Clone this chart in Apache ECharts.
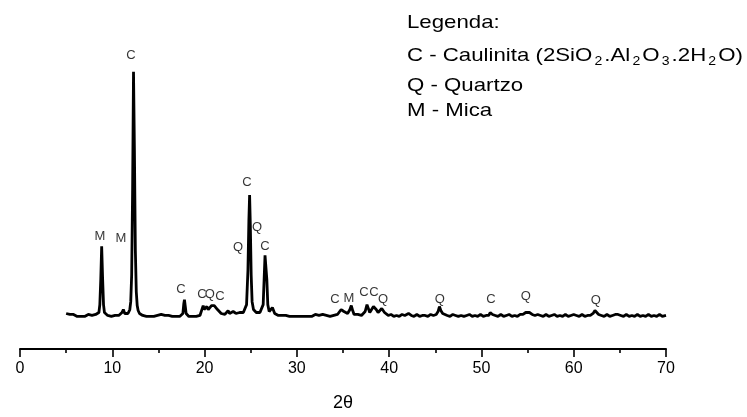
<!DOCTYPE html>
<html>
<head>
<meta charset="utf-8">
<script src="https://cdn.jsdelivr.net/npm/echarts@6/dist/echarts.min.js"></script>
<style>
  html, body { margin: 0; padding: 0; background: #fff; }
  #chart { width: 747px; height: 417px; }
</style>
</head>
<body>
<div id="chart"></div>
<script>
// Diffractogram: 2θ positions (degrees) and measured intensity (arbitrary units)
const twoTheta = [
  5.0, 5.2, 5.4, 5.6, 5.8, 6.0, 6.2, 6.4, 6.6, 6.8, 7.0, 7.2, 7.4, 7.6, 7.8, 8.0, 8.2, 8.4,
  8.55, 8.65, 8.75, 8.85, 8.95, 9.05, 9.15, 9.3, 9.5, 9.7, 9.9, 10.1, 10.3, 10.5, 10.7, 10.9,
  11.05, 11.2, 11.35, 11.5, 11.7, 11.9, 12.0, 12.1, 12.2, 12.3, 12.4, 12.5, 12.6, 12.7, 12.8,
  12.95, 13.1, 13.3, 13.5, 13.7, 13.9, 14.1, 14.3, 14.5, 14.7, 14.9, 15.1, 15.3, 15.5, 15.7,
  15.9, 16.1, 16.3, 16.5, 16.7, 16.9, 17.1, 17.3, 17.5, 17.65, 17.75, 17.82, 17.9, 18.0, 18.1,
  18.3, 18.5, 18.7, 18.9, 19.1, 19.3, 19.5, 19.7, 19.85, 19.95, 20.1, 20.25, 20.4, 20.55, 20.75,
  20.9, 21.05, 21.2, 21.4, 21.6, 21.8, 22.0, 22.2, 22.4, 22.55, 22.7, 22.9, 23.1, 23.25, 23.4,
  23.6, 23.8, 24.0, 24.2, 24.4, 24.55, 24.7, 24.8, 24.88, 24.96, 25.05, 25.15, 25.3, 25.45, 25.6,
  25.8, 26.0, 26.2, 26.35, 26.45, 26.55, 26.65, 26.75, 26.85, 27.0, 27.2, 27.35, 27.45, 27.6,
  27.8, 28.0, 28.2, 28.4, 28.6, 28.8, 29.0, 29.2, 29.4, 29.6, 29.8, 30.0, 30.2, 30.4, 30.6, 30.8,
  31.0, 31.2, 31.4, 31.6, 31.8, 32.0, 32.2, 32.4, 32.6, 32.8, 33.0, 33.2, 33.4, 33.6, 33.8, 34.0,
  34.2, 34.4, 34.6, 34.8, 34.95, 35.1, 35.3, 35.5, 35.75, 35.9, 36.05, 36.2, 36.4, 36.6, 36.8,
  37.0, 37.2, 37.4, 37.6, 37.75, 37.9, 38.1, 38.3, 38.45, 38.6, 38.8, 39.0, 39.2, 39.35, 39.5,
  39.7, 39.9, 40.2, 40.5, 40.8, 41.1, 41.4, 41.7, 41.9, 42.1, 42.4, 42.7, 43.0, 43.3, 43.6, 43.9,
  44.2, 44.5, 44.8, 45.1, 45.3, 45.45, 45.6, 45.8, 46.0, 46.3, 46.6, 46.9, 47.2, 47.5, 47.8, 48.1,
  48.4, 48.7, 49.0, 49.3, 49.6, 49.9, 50.2, 50.5, 50.8, 50.95, 51.05, 51.2, 51.5, 51.8, 52.1, 52.4,
  52.7, 53.0, 53.3, 53.6, 53.9, 54.2, 54.5, 54.8, 55.0, 55.2, 55.5, 55.8, 56.1, 56.4, 56.7, 57.0,
  57.3, 57.6, 57.9, 58.2, 58.5, 58.8, 59.1, 59.4, 59.7, 60.0, 60.3, 60.6, 60.9, 61.2, 61.5, 61.8,
  62.1, 62.3, 62.5, 62.7, 63.0, 63.3, 63.6, 63.9, 64.2, 64.5, 64.8, 65.1, 65.4, 65.7, 66.0, 66.3,
  66.6, 66.9, 67.2, 67.5, 67.8, 68.1, 68.4, 68.7, 69.0, 69.3, 69.6, 70.0
];
const intensity = [
  36, 34, 35, 33, 35, 34, 33, 35, 33, 34, 33, 34, 35, 33, 34, 34, 35, 35,
  37, 45, 70, 104, 72, 45, 37, 35, 34, 35, 33, 34, 34, 35, 34, 35,
  37, 40, 36, 35, 36, 40, 48, 75, 160, 281, 200, 100, 58, 44, 39,
  36, 35, 34, 35, 33, 34, 33, 35, 33, 34, 34, 33, 35, 33, 34,
  33, 34, 35, 33, 34, 33, 35, 33, 34, 36, 46, 50, 44, 36, 34,
  33, 35, 33, 34, 33, 35, 34, 36, 44, 40, 38, 43, 40, 41, 44,
  46, 44, 42, 40, 38, 36, 35, 35, 37, 39, 36, 35, 38, 40, 36,
  35, 37, 38, 37, 39, 45, 80, 130, 156, 125, 75, 48, 40, 38, 37,
  36, 37, 39, 45, 70, 95, 96, 70, 45, 38, 37, 42, 40, 36,
  35, 34, 35, 34, 35, 34, 35, 33, 34, 33, 35, 33, 34, 33, 35, 33,
  34, 33, 35, 33, 34, 35, 33, 34, 33, 35, 33, 34, 35, 33, 34, 34,
  35, 35, 36, 40, 41, 38, 37, 36, 40, 44, 39, 35, 34, 35, 34,
  34, 35, 38, 45, 44, 37, 37, 43, 45, 40, 37, 38, 41, 41, 37,
  35, 34, 35, 33, 34, 33, 35, 34, 35, 36, 34, 33, 35, 33, 34, 34,
  33, 35, 34, 35, 38, 43, 39, 36, 35, 34, 33, 35, 34, 33, 34, 33,
  34, 35, 33, 34, 33, 35, 33, 34, 34, 37, 39, 35, 34, 33, 35, 33,
  34, 35, 33, 34, 33, 35, 35, 37, 38, 37, 35, 34, 35, 34, 33, 35,
  33, 34, 35, 33, 34, 33, 35, 33, 34, 35, 34, 33, 35, 33, 34, 34,
  36, 39, 37, 35, 34, 33, 35, 33, 34, 35, 35, 34, 33, 35, 33, 34,
  33, 35, 33, 34, 33, 35, 33, 34, 33, 35, 33, 34
];

// Phase identification letters above the reflections
const peakPhase = ['C', 'M', 'M', 'C', 'C', 'Q', 'C', 'C', 'Q', 'Q', 'C',
                   'C', 'M', 'C', 'C', 'Q', 'Q', 'C', 'Q', 'Q'];
const peakLabelX = [12.03, 8.67, 10.94, 17.44, 19.72, 20.58, 21.67, 24.59, 25.68, 23.62, 26.54,
                    34.13, 35.64, 37.27, 38.35, 39.33, 45.50, 51.03, 54.82, 62.40];
const peakLabelY = [298, 114, 112, 60, 55, 55, 53, 169, 123, 103, 104,
                    50, 51, 57, 57, 50, 50, 50, 53, 49];

// Axis ticks
const xTicks = [0, 10, 20, 30, 40, 50, 60, 70];

// Legend block: one entry per line
const legendLines = [
  'Legenda:',
  'C - Caulinita (2SiO{s|2}.Al{s|2}O{s|3}.2H{s|2}O)',
  'Q - Quartzo',
  'M - Mica'
];
const legendLineY = [22.5, 55.5, 86, 111];

const chart = echarts.init(document.getElementById('chart'), null, { renderer: 'canvas' });

const lineData = twoTheta.map((t, i) => [t, intensity[i]]);
const labelData = peakLabelX.map((x, i) => ({ value: [x, peakLabelY[i]], name: peakPhase[i] }));

const legendGraphics = legendLines.map((txt, i) => ({
  type: 'text',
  x: 407,
  y: legendLineY[i],
  scaleX: 1.17,
  silent: true,
  style: {
    text: txt,
    fill: '#000',
    font: '19px "Liberation Sans", Arial, sans-serif',
    verticalAlign: 'middle',
    align: 'left',
    rich: {
      s: { fontSize: 12, fill: '#000', padding: [12, 1.8, 0, 1.8], fontFamily: 'Liberation Sans, Arial' }
    }
  }
}));

const option = {
  backgroundColor: '#ffffff',
  animation: false,
  grid: { left: 20, right: 81, top: 53, bottom: 64, containLabel: false },
  xAxis: {
    type: 'value',
    min: xTicks[0],
    max: xTicks[xTicks.length - 1],
    interval: 10,
    name: '2θ',
    nameLocation: 'middle',
    nameGap: 45,
    nameTextStyle: { color: '#000', fontSize: 18, fontFamily: 'Liberation Sans Narrow, Liberation Sans, Arial' },
    axisLine: { show: true, lineStyle: { color: '#000', width: 2 } },
    axisTick: { show: true, length: 8, lineStyle: { color: '#000', width: 1.6 } },
    minorTick: { show: true, splitNumber: 2, length: 4, lineStyle: { color: '#000', width: 1.6 } },
    axisLabel: {
      color: '#000', fontSize: 16, margin: 12,
      fontFamily: 'Liberation Sans Narrow, Liberation Sans, Arial',
      formatter: v => String(v)
    },
    splitLine: { show: false }
  },
  yAxis: {
    type: 'value', min: 0, max: 300, show: false,
    splitLine: { show: false }
  },
  graphic: legendGraphics,
  series: [
    {
      type: 'line',
      data: lineData,
      showSymbol: false,
      symbol: 'none',
      smooth: false,
      lineStyle: { color: '#000', width: 2.8 },
      z: 2
    },
    {
      type: 'scatter',
      data: labelData,
      symbolSize: 0,
      silent: true,
      label: {
        show: true,
        position: 'inside',
        formatter: p => p.name,
        color: '#000',
        fontSize: 13,
        fontFamily: 'Liberation Sans, Arial'
      },
      z: 3
    }
  ]
};

chart.setOption(option);
</script>
</body>
</html>
